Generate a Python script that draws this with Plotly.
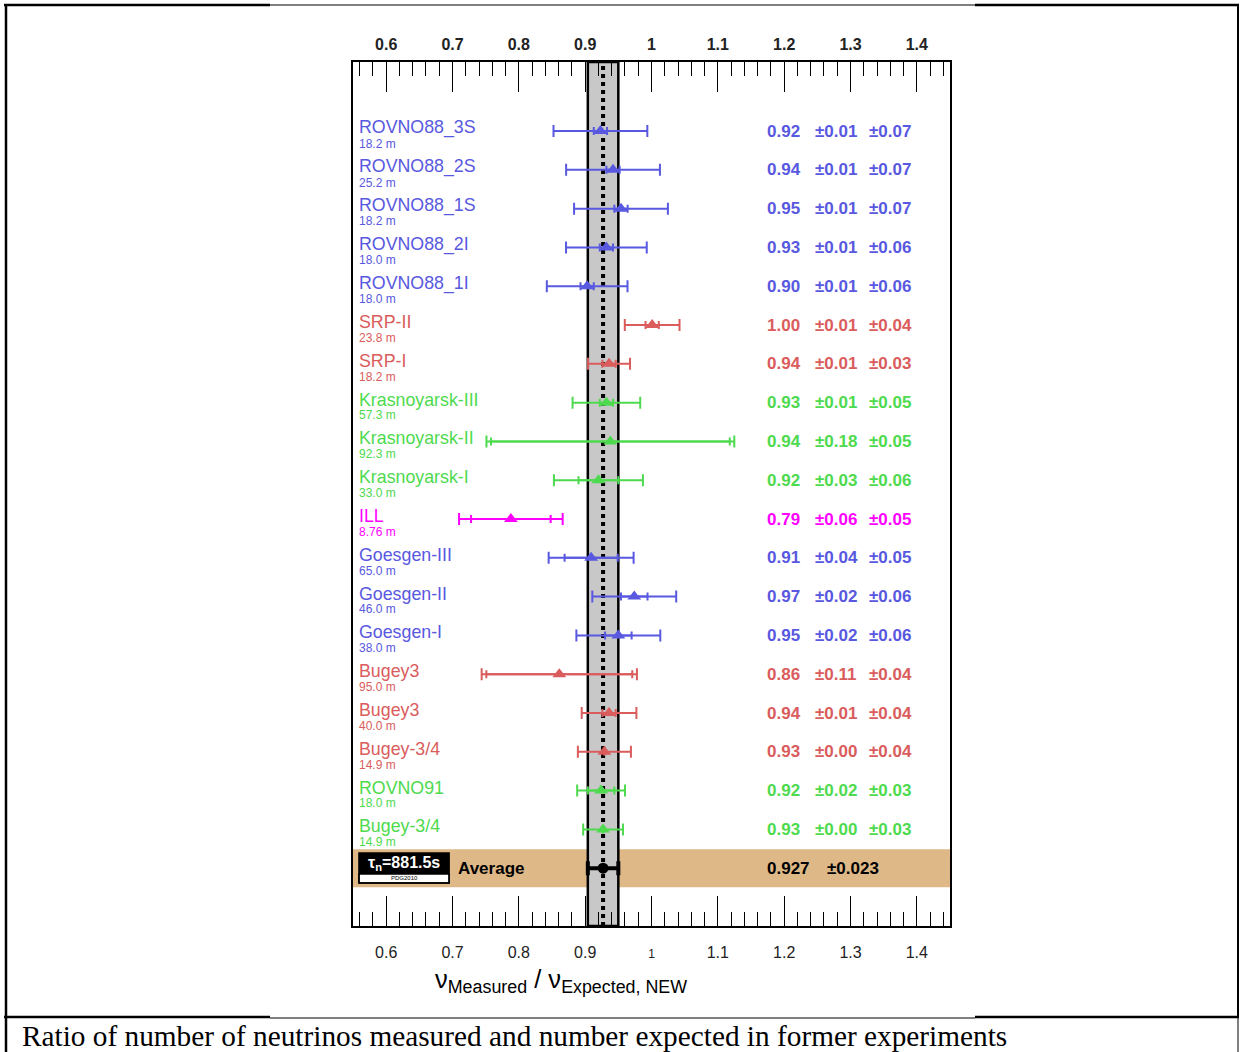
import math
import plotly.graph_objects as go

# ---------------- data ----------------
names = ["ROVNO88_3S", "ROVNO88_2S", "ROVNO88_1S", "ROVNO88_2I", "ROVNO88_1I",
         "SRP-II", "SRP-I", "Krasnoyarsk-III", "Krasnoyarsk-II", "Krasnoyarsk-I",
         "ILL", "Goesgen-III", "Goesgen-II", "Goesgen-I", "Bugey3", "Bugey3",
         "Bugey-3/4", "ROVNO91", "Bugey-3/4"]
distances = ["18.2 m", "25.2 m", "18.2 m", "18.0 m", "18.0 m", "23.8 m", "18.2 m",
             "57.3 m", "92.3 m", "33.0 m", "8.76 m", "65.0 m", "46.0 m", "38.0 m",
             "95.0 m", "40.0 m", "14.9 m", "18.0 m", "14.9 m"]
ratio = [0.923, 0.942, 0.954, 0.932, 0.903, 1.001, 0.936, 0.932, 0.938, 0.920,
         0.788, 0.909, 0.974, 0.950, 0.861, 0.936, 0.929, 0.924, 0.927]
stat_err = [0.01, 0.01, 0.01, 0.01, 0.01, 0.01, 0.01, 0.01, 0.18, 0.03,
            0.06, 0.04, 0.02, 0.02, 0.11, 0.01, 0.00, 0.02, 0.00]
syst_err = [0.07, 0.07, 0.07, 0.06, 0.06, 0.04, 0.03, 0.05, 0.05, 0.06,
            0.05, 0.05, 0.06, 0.06, 0.04, 0.04, 0.04, 0.03, 0.03]
groups = ["blue"] * 5 + ["red"] * 2 + ["green"] * 3 + ["magenta"] + \
         ["blue"] * 3 + ["red"] * 3 + ["green"] * 2
avg_value = 0.927
avg_err = 0.023
avg_label = "Average"
tau_text = "τ<sub>n</sub>=881.5s"
tau_source = "PDG2010"
tick_values = [0.6, 0.7, 0.8, 0.9, 1.0, 1.1, 1.2, 1.3, 1.4]
tick_labels = ["0.6", "0.7", "0.8", "0.9", "1", "1.1", "1.2", "1.3", "1.4"]
x_title = "ν<sub>Measured</sub> / ν<sub>Expected, NEW</sub>"
caption = "Ratio of number of neutrinos measured and number expected in former experiments"

# ---------------- style ----------------
palette = {"blue": "rgb(88,88,224)", "red": "rgb(218,92,92)",
           "green": "rgb(78,218,78)", "magenta": "rgb(255,0,255)"}
SANS = "Liberation Sans, Arial, sans-serif"
SERIF = "Liberation Serif, Times New Roman, serif"

W, H = 1240, 1052
L, R, T, B = 353, 950, 62, 926


def px(xp):
    return (xp - L) / (R - L)


def py(yp):
    return (B - yp) / (B - T)


n = len(names)
avg_y = n
fig = go.Figure()

# experiment error bars
for i in range(n):
    c = palette[groups[i]]
    tot = math.sqrt(stat_err[i] ** 2 + syst_err[i] ** 2)
    fig.add_trace(go.Scatter(
        x=[ratio[i]], y=[i], mode="markers",
        marker=dict(symbol="triangle-up", size=12, color=c),
        error_x=dict(type="data", array=[tot], color=c, thickness=2, width=6),
        showlegend=False, hoverinfo="skip"))
    fig.add_trace(go.Scatter(
        x=[ratio[i]], y=[i], mode="markers",
        marker=dict(size=1, opacity=0),
        error_x=dict(type="data", array=[stat_err[i]], color=c, thickness=2, width=4),
        showlegend=False, hoverinfo="skip"))

# average
fig.add_trace(go.Scatter(
    x=[avg_value], y=[avg_y], mode="markers",
    marker=dict(symbol="circle", size=11, color="black"),
    error_x=dict(type="data", array=[avg_err], color="black", thickness=4, width=7),
    showlegend=False, hoverinfo="skip"))
# dummy for the top axis
fig.add_trace(go.Scatter(x=[avg_value], y=[avg_y], xaxis="x2", mode="markers",
                         marker=dict(opacity=0), showlegend=False, hoverinfo="skip"))

shapes = []
# average row band
shapes.append(dict(type="rect", xref="x domain", yref="y", x0=0, x1=1,
                   y0=avg_y - 0.49, y1=avg_y + 0.49, fillcolor="rgb(222,185,135)",
                   line=dict(width=0), layer="below"))
# grey band of the average
shapes.append(dict(type="rect", xref="x", yref="y domain", x0=avg_value - avg_err,
                   x1=avg_value + avg_err, y0=0, y1=1, fillcolor="rgb(200,200,200)",
                   line=dict(color="black", width=2.5), layer="below"))
shapes.append(dict(type="line", xref="x", yref="y domain", x0=avg_value, x1=avg_value,
                   y0=0, y1=1, line=dict(color="black", width=4, dash="4px,4px"),
                   layer="below"))
# tau box
shapes.append(dict(type="rect", xref="x domain", yref="y", x0=0.01, x1=0.161,
                   y0=avg_y - 0.39, y1=avg_y + 0.15, fillcolor="black",
                   line=dict(width=0)))
shapes.append(dict(type="rect", xref="x domain", yref="y", x0=0.01, x1=0.161,
                   y0=avg_y + 0.15, y1=avg_y + 0.38, fillcolor="white",
                   line=dict(color="black", width=1.5)))
shapes.append(dict(type="rect", xref="x domain", yref="y", x0=0.01, x1=0.161,
                   y0=avg_y - 0.39, y1=avg_y + 0.38,
                   line=dict(color="black", width=1.5)))


# outer page frame
def seg(x0, y0, x1, y1, w):
    shapes.append(dict(type="line", xref="paper", yref="paper",
                       x0=px(x0), y0=py(y0), x1=px(x1), y1=py(y1),
                       line=dict(color="black", width=w)))


seg(4, 5, 270, 5, 2.5)
seg(270, 5, 975, 5, 1)
seg(975, 5, 1239, 5, 2.5)
seg(6, 4, 6, 1052, 2.5)
seg(1238, 4, 1238, 1017, 2)
seg(1238, 1017, 1238, 1052, 1)
seg(4, 1017, 270, 1017, 2.5)
seg(270, 1018, 975, 1018, 1)
seg(975, 1017, 1239, 1017, 2.5)

annotations = []
for i in range(n):
    c = palette[groups[i]]
    annotations.append(dict(xref="x domain", yref="y", x=0.006, y=i - 0.08,
                            text=names[i], showarrow=False, xanchor="left",
                            yanchor="middle", font=dict(family=SANS, size=17.8, color=c)))
    annotations.append(dict(xref="x domain", yref="y", x=0.006, y=i + 0.33,
                            text=distances[i], showarrow=False, xanchor="left",
                            yanchor="middle", font=dict(family=SANS, size=12, color=c)))
    for xd, txt in ((0.690, f"{ratio[i]:.2f}"), (0.770, f"±{stat_err[i]:.2f}"),
                    (0.8615, f"±{syst_err[i]:.2f}")):
        annotations.append(dict(xref="x domain", yref="y", x=xd, y=i, text=f"<b>{txt}</b>",
                                showarrow=False, xanchor="left", yanchor="middle",
                                font=dict(family=SANS, size=17, color=c)))

annotations.append(dict(xref="x domain", yref="y", x=0.690, y=avg_y,
                        text=f"<b>{avg_value:.3f}</b>", showarrow=False, xanchor="left",
                        yanchor="middle", font=dict(family=SANS, size=17, color="black")))
annotations.append(dict(xref="x domain", yref="y", x=0.791, y=avg_y,
                        text=f"<b>±{avg_err:.3f}</b>", showarrow=False, xanchor="left",
                        yanchor="middle", font=dict(family=SANS, size=17, color="black")))
annotations.append(dict(xref="x domain", yref="y", x=0.172, y=avg_y,
                        text=f"<b>{avg_label}</b>", showarrow=False, xanchor="left",
                        yanchor="middle", font=dict(family=SANS, size=17, color="black")))
annotations.append(dict(xref="x domain", yref="y", x=0.0855, y=avg_y - 0.13,
                        text=f"<b>{tau_text}</b>", showarrow=False, xanchor="center",
                        yanchor="middle", font=dict(family=SANS, size=16, color="white")))
annotations.append(dict(xref="x domain", yref="y", x=0.0855, y=avg_y + 0.265,
                        text=tau_source, showarrow=False, xanchor="center",
                        yanchor="middle", font=dict(family=SANS, size=6, color="black")))
annotations.append(dict(xref="paper", yref="paper", x=px(561), y=py(981),
                        text=x_title, showarrow=False, xanchor="center", yanchor="middle",
                        font=dict(family=SANS, size=25.5, color="black")))
annotations.append(dict(xref="paper", yref="paper", x=px(20), y=py(1036),
                        text=caption, showarrow=False, xanchor="left", yanchor="middle",
                        font=dict(family=SERIF, size=29.3, color="black")))

bottom_text = [f'<span style="font-size:12px">{t}</span>' if v == 1.0 else t
               for v, t in zip(tick_values, tick_labels)]
top_text = [f"<b>{t}</b>" for t in tick_labels]

common = dict(range=[0.55, 1.45], tickmode="array", tickvals=tick_values,
              ticks="inside", ticklen=30, tickwidth=1.2, tickcolor="black",
              showline=True, linewidth=1.5, linecolor="black", showgrid=False,
              zeroline=False,
              minor=dict(ticks="inside", ticklen=14, tickwidth=1.2, tickcolor="black",
                         tick0=0, dtick=0.02, showgrid=False))

fig.update_layout(
    width=W, height=H, autosize=False,
    margin=dict(l=L, r=W - R, t=T, b=H - B, pad=0),
    paper_bgcolor="white", plot_bgcolor="white",
    xaxis=dict(**common, ticktext=bottom_text, side="bottom",
               ticklabelstandoff=11,
               tickfont=dict(family=SANS, size=16, color="#222")),
    xaxis2=dict(**common, ticktext=top_text, side="top", overlaying="x", matches="x",
                ticklabelstandoff=4,
                tickfont=dict(family=SANS, size=16, color="#222")),
    yaxis=dict(range=[20.49, -1.78], showticklabels=False, ticks="", showline=True,
               mirror=True, linewidth=1.5, linecolor="black", showgrid=False,
               zeroline=False),
    shapes=shapes, annotations=annotations, showlegend=False,
)

fig.write_html("out.html")
